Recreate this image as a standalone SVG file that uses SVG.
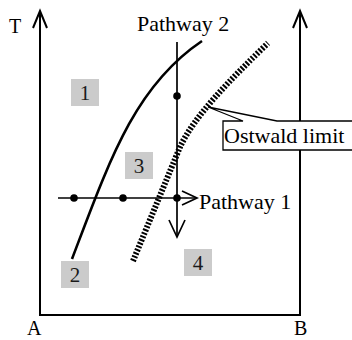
<svg xmlns="http://www.w3.org/2000/svg" width="352" height="340" viewBox="0 0 352 340">
<defs>
<style>
.ax{fill:none;stroke:#000;stroke-width:2;stroke-linejoin:miter}
.pw{fill:none;stroke:#000;stroke-width:1.7}
.t{font-family:"Liberation Serif","Times New Roman",serif;font-size:22px;fill:#000}
.ta{font-family:"Liberation Serif","Times New Roman",serif;font-size:20px;fill:#000}
.nb{fill:#cbcbcb}
.n{font-family:"Liberation Serif","Times New Roman",serif;font-size:21px;fill:#1a1a1a;text-anchor:middle}
</style>
</defs>
<rect width="352" height="340" fill="#fff"/>
<g id="axes">
<path class="ax" d="M40,11 L40,315 L300,315 L300,11"/>
<path class="ax" d="M33,28 L40,11 L47,28"/>
<path class="ax" d="M293,28 L300,11 L307,28"/>
<text class="ta" x="9" y="33">T</text>
<text class="ta" x="27" y="335">A</text>
<text class="ta" x="294" y="335">B</text>
</g>
<g id="connectors">
<path d="M72,259 C110,159 135,86 202,41" fill="none" stroke="#000" stroke-width="2.6"/>
<path d="M133,261 L180,147 C195,115 230,80 268,43" fill="none" stroke="#000" stroke-width="6" stroke-dasharray="2 1.6"/>
<path class="pw" d="M58,198 L196,198"/>
<path class="pw" d="M182,191 L197,198 L182,205"/>
<path class="pw" d="M177,42 L177,236"/>
<path class="pw" d="M169,220 L177,237 L185,220"/>
<circle cx="74" cy="198" r="3.8"/>
<circle cx="123" cy="198" r="3.8"/>
<circle cx="177" cy="198" r="3.8"/>
<circle cx="177" cy="96" r="3.8"/>
</g>
<g id="region1"><rect class="nb" x="71" y="79" width="28" height="27"/><text class="n" x="85" y="100">1</text></g>
<g id="region2"><rect class="nb" x="61" y="261" width="28" height="27"/><text class="n" x="75" y="282">2</text></g>
<g id="region3"><rect class="nb" x="125" y="152" width="28" height="27"/><text class="n" x="139" y="173">3</text></g>
<g id="region4"><rect class="nb" x="184" y="249" width="28" height="27"/><text class="n" x="198" y="270">4</text></g>
<g id="pathway2"><text class="t" x="137" y="31">Pathway 2</text></g>
<g id="pathway1"><text class="t" x="199" y="209">Pathway 1</text></g>
<g id="ostwald">
<rect x="223" y="121" width="135" height="29" fill="#fff"/>
<path d="M356,121 L277,121 L208,107 L243,121 L223,121 L223,150 L356,150" fill="none" stroke="#000" stroke-width="1.3"/>
<text class="t" x="224" y="143">Ostwald limit</text>
</g>
</svg>
